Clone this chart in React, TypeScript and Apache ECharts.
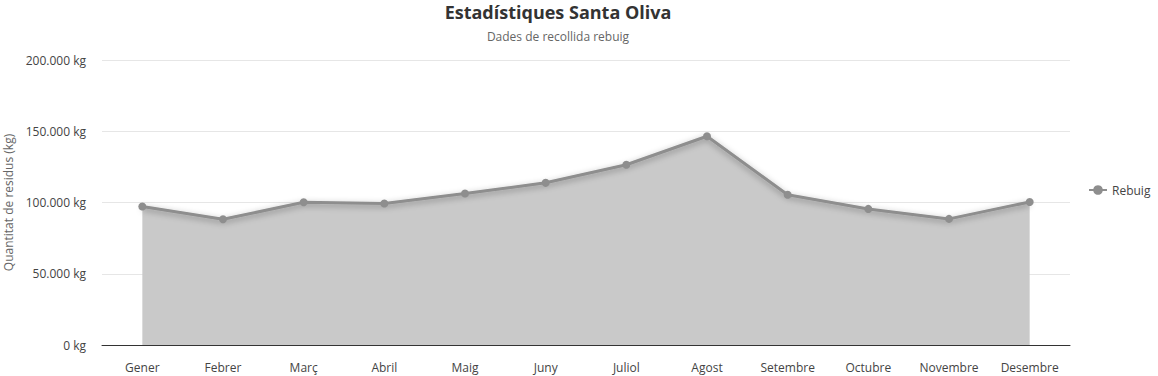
import React, { useEffect, useRef } from "react";
import * as echarts from "echarts";

const months = ["Gener", "Febrer", "Març", "Abril", "Maig", "Juny", "Juliol", "Agost", "Setembre", "Octubre", "Novembre", "Desembre"];
const rebuig = [97200, 88200, 100200, 99300, 106300, 113800, 126500, 146500, 105400, 95500, 88500, 100400];
const yTicks = { min: 0, max: 200000, interval: 50000 };

const FONT = "'Open Sans', 'Noto Sans', sans-serif";

function fmt(v: number): string {
  return String(v).replace(/\B(?=(\d{3})+(?!\d))/g, ".") + " kg";
}

export default function App() {
  const ref = useRef<HTMLDivElement>(null);
  useEffect(() => {
    if (!ref.current) return;
    const chart = echarts.init(ref.current, undefined, { renderer: "svg" });
    chart.setOption({
      animation: false,
      textStyle: { fontFamily: FONT },
      title: {
        text: "Estadístiques Santa Oliva",
        subtext: "Dades de recollida rebuig",
        left: 558,
        top: 3,
        padding: 0,
        textAlign: "center",
        itemGap: 9,
        textStyle: { fontFamily: FONT, fontSize: 18, fontWeight: "bold", color: "#333" },
        subtextStyle: { fontFamily: FONT, fontSize: 12, color: "#666" },
      },
      legend: {
        data: ["Rebuig"],
        left: 1088,
        top: 184,
        padding: 0,
        itemWidth: 18,
        itemHeight: 12,
        itemGap: 5,
        textStyle: { fontFamily: FONT, fontSize: 12, color: "#444" },
      },
      grid: { left: 102, right: 88, top: 60, bottom: 31, containLabel: false, outerBoundsMode: "none" },
      xAxis: {
        type: "category",
        data: months,
        boundaryGap: true,
        axisLine: { lineStyle: { color: "#333", width: 1 } },
        axisTick: { show: false },
        axisLabel: { color: "#444", fontSize: 12, margin: 16, fontFamily: FONT },
      },
      yAxis: {
        type: "value",
        min: yTicks.min,
        max: yTicks.max,
        interval: yTicks.interval,
        name: "Quantitat de residus (kg)",
        nameLocation: "middle",
        nameGap: 88,
        nameTextStyle: { color: "#666", fontSize: 12, fontFamily: FONT },
        axisLine: { show: false },
        axisTick: { show: false },
        axisLabel: { color: "#444", fontSize: 12, margin: 16, formatter: (v: number) => fmt(v), fontFamily: FONT },
        splitLine: { lineStyle: { color: "#e6e6e6", width: 1 } },
      },
      series: [
        {
          name: "Rebuig",
          type: "line",
          data: rebuig,
          symbol: "circle",
          symbolSize: 8,
          showSymbol: true,
          itemStyle: { color: "#8e8e8e" },
          lineStyle: {
            color: "#8e8e8e",
            width: 3,
            shadowColor: "rgba(0,0,0,0.35)",
            shadowBlur: 6,
            shadowOffsetY: 2,
          },
          areaStyle: { color: "#c9c9c9", opacity: 1 },
        },
      ],
    });
    return () => chart.dispose();
  }, []);
  return (
    <div
      ref={ref}
      style={{ position: "fixed", left: 0, top: 0, width: 1158, height: 376, background: "#fff" }}
    />
  );
}
